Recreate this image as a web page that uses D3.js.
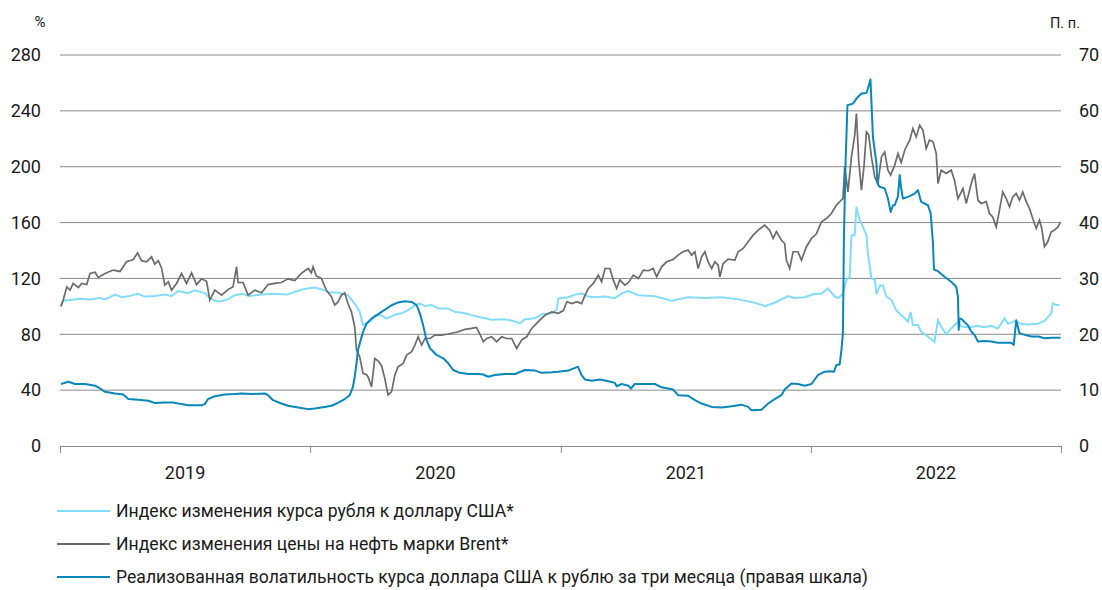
<!DOCTYPE html>
<html>
<head>
<meta charset="utf-8">
<script src="https://cdn.jsdelivr.net/npm/d3@7"></script>
<style>
  body { margin: 0; background: #fff; }
  svg { display: block; font-family: Roboto, "Noto Sans", sans-serif; }
</style>
</head>
<body>
<svg id="chart" width="1102" height="590"></svg>
<script>
// time is stored as years since 1 Jan 2019
const startYear = 2019;
const years = ['2019', '2020', '2021', '2022'];
const leftTicks = [0, 40, 80, 120, 160, 200, 240, 280];
const rightTicks = [0, 10, 20, 30, 40, 50, 60, 70];

const legendLabels = [
  'Индекс изменения курса рубля к доллару США*',
  'Индекс изменения цены на нефть марки Brent*',
  'Реализованная волатильность курса доллара США к рублю за три месяца (правая шкала)',
];

// ruble index, %
const rubleIndex = [
  [0.002,100],[0.012,104],[0.040,104.5],[0.080,105.5],[0.120,105],[0.160,106],[0.180,105],[0.220,108.5],[0.248,106.5],[0.280,107.5],[0.312,109],[0.339,107],[0.379,107.5],[0.419,108.5],[0.447,107.5],[0.471,111],[0.511,109.5],[0.539,111.5],[0.579,109.5],[0.599,106],[0.619,104],[0.639,103.5],[0.671,105],[0.699,108],[0.727,109],[0.759,107.5],[0.807,108.5],[0.847,109],[0.911,108.5],[0.950,111],[0.978,112.5],
  [1.018,113.5],[1.058,111.6],[1.072,110],[1.111,110],[1.151,108],[1.178,102],[1.198,96],[1.211,86.6],[1.225,88],[1.245,90],[1.258,93.7],[1.285,93.7],[1.305,91.2],[1.338,94],[1.365,95],[1.391,97.3],[1.418,100.9],[1.438,102],[1.458,100.2],[1.484,101],[1.511,98.5],[1.551,98.5],[1.577,96.1],[1.617,95],[1.644,93.7],[1.684,92],[1.724,90.4],[1.777,90.8],[1.817,89.2],[1.837,87.8],[1.857,90.8],[1.897,91.5],[1.924,94.3],[1.964,95],[1.984,98],[1.990,105.7],
  [2.030,106.5],[2.057,108.4],[2.083,109.3],[2.110,107],[2.137,106.6],[2.177,107],[2.216,105.9],[2.243,109.3],[2.270,110.9],[2.310,108],[2.376,107.2],[2.443,104],[2.509,106.5],[2.576,106],[2.643,106.5],[2.709,105],[2.776,102.6],[2.816,100.2],[2.855,102.6],[2.909,107.3],[2.935,106],[2.975,106.5],
  [3.015,109],[3.042,109],[3.068,112.8],[3.095,107],[3.109,106],[3.128,109],[3.142,118.8],[3.155,121.2],[3.162,151],[3.175,151],[3.182,171.3],[3.195,161.7],[3.208,157],[3.222,151],[3.228,137.9],[3.242,120],[3.256,119],[3.262,108.8],[3.276,115],[3.288,115],[3.302,106.9],[3.322,104.5],[3.341,97.3],[3.361,93.7],[3.375,91.5],[3.388,89],[3.399,96],[3.408,86.6],[3.428,86.6],[3.441,81.8],[3.468,78.2],[3.494,74.6],[3.508,90.2],[3.521,85.4],[3.541,80],[3.561,84.2],[3.588,89],[3.601,85.5],[3.628,85],[3.668,86],[3.694,85],[3.721,86],[3.748,84.2],[3.774,91.4],[3.788,87.5],[3.814,89.5],[3.841,87.5],[3.867,87],[3.907,87.5],[3.934,89.5],[3.961,95],[3.967,102.1],[3.981,101],[3.994,101]
];

// Brent index, %
const brentIndex = [
  [0.004,100],[0.013,104.5],[0.027,114],[0.040,111.6],[0.053,116.4],[0.073,113.4],[0.087,116.4],[0.107,115.6],[0.120,123.6],[0.140,124.4],[0.153,120.7],[0.180,123.6],[0.213,126],[0.240,125],[0.266,131.9],[0.293,133.6],[0.310,138.3],[0.326,132.7],[0.346,131.9],[0.366,135.5],[0.379,130.2],[0.393,132.7],[0.406,127.5],[0.419,115.2],[0.433,117.6],[0.446,111.6],[0.466,116.4],[0.486,123.6],[0.506,116.4],[0.526,124],[0.546,115.6],[0.566,119.7],[0.586,118],[0.599,104.5],[0.619,111.6],[0.646,108],[0.672,112],[0.692,114],[0.706,128.3],[0.712,117.1],[0.732,117.1],[0.752,108],[0.779,111.6],[0.806,109.7],[0.832,115.6],[0.859,116.4],[0.885,117.1],[0.912,119.7],[0.939,118.5],[0.965,123.6],[0.992,127.1],[1.005,124],[1.012,128.3],
  [1.025,121.8],[1.045,120],[1.065,111.6],[1.085,106.9],[1.098,100.9],[1.111,103],[1.125,108],[1.138,109.7],[1.151,102],[1.165,96.1],[1.178,85.4],[1.185,68.7],[1.198,63.9],[1.211,52],[1.225,51],[1.231,49.6],[1.245,42.4],[1.258,62.7],[1.271,61],[1.285,57.5],[1.298,48.4],[1.311,36.5],[1.325,38.9],[1.338,50.8],[1.351,56.7],[1.371,59.2],[1.385,65.1],[1.405,67.5],[1.418,72.3],[1.431,78.2],[1.445,72.3],[1.458,77],[1.478,77],[1.498,79.4],[1.524,79.4],[1.551,80.2],[1.591,81.8],[1.617,83.5],[1.644,84.2],[1.664,84.9],[1.677,80.2],[1.691,74.6],[1.704,77],[1.724,78.2],[1.744,74.6],[1.764,78.2],[1.784,77],[1.804,77],[1.824,69.9],[1.844,76],[1.864,78.2],[1.884,84.2],[1.910,89],[1.937,93.7],[1.964,96.1],[1.990,95],[2.010,97],
  [2.024,103.3],[2.044,102],[2.064,103.3],[2.083,102],[2.097,108],[2.110,112.8],[2.130,116.4],[2.150,122.4],[2.163,117.6],[2.177,127.1],[2.196,127.1],[2.210,118.8],[2.223,112.8],[2.236,119],[2.256,115.2],[2.270,117],[2.290,122.4],[2.310,120],[2.330,126],[2.350,125.5],[2.369,127.1],[2.383,121.2],[2.403,128.3],[2.423,131.9],[2.449,133.6],[2.469,136.7],[2.489,139.1],[2.509,140.3],[2.523,136.7],[2.536,139.1],[2.549,127.1],[2.563,135.5],[2.576,139.1],[2.589,131.9],[2.603,127.1],[2.616,131.9],[2.629,129.5],[2.636,121.2],[2.649,130.7],[2.669,133.8],[2.696,133.1],[2.709,139.1],[2.729,141.5],[2.749,146.2],[2.769,151],[2.789,154.6],[2.815,158.2],[2.835,154.6],[2.849,148.6],[2.862,153.5],[2.882,147.4],[2.895,145],[2.902,133.1],[2.915,127.1],[2.929,139.1],[2.948,139.1],[2.962,133.1],[2.982,142.7],[3.002,148.6],
  [3.022,152],[3.042,160.5],[3.062,162.9],[3.082,166.5],[3.102,172.5],[3.115,174.9],[3.128,177.2],[3.135,199.9],[3.148,182],[3.162,207],[3.175,222.5],[3.182,238.1],[3.191,204.6],[3.202,183.2],[3.212,199.9],[3.222,224.9],[3.231,223],[3.242,207],[3.255,192.7],[3.268,187.9],[3.282,207],[3.295,210.6],[3.308,197.5],[3.319,194],[3.335,201.1],[3.348,209.4],[3.361,203],[3.375,211.8],[3.395,219],[3.408,227.4],[3.421,221.3],[3.435,229.7],[3.448,226],[3.461,213],[3.474,219],[3.488,218],[3.501,209.4],[3.508,188],[3.521,197.5],[3.541,195.1],[3.561,197.5],[3.574,190.4],[3.588,177.2],[3.608,184.4],[3.621,173.7],[3.641,188],[3.654,195.1],[3.668,176],[3.681,173.7],[3.701,175],[3.714,166.5],[3.727,164],[3.741,156.9],[3.754,168.9],[3.767,182],[3.781,177.2],[3.794,171.3],[3.807,178.4],[3.821,180.8],[3.834,176],[3.847,182],[3.861,175],[3.874,170.1],[3.887,162.9],[3.901,155.8],[3.914,161.7],[3.923,155.8],[3.934,142.7],[3.947,146.2],[3.961,153.4],[3.974,154.6],[3.988,156.9],[3.998,160.5]
];

// realised 3m volatility, p.p. (right axis)
const volatility = [
  [0.004,11.1],[0.033,11.5],[0.060,11.1],[0.100,11.1],[0.140,10.8],[0.160,10.3],[0.180,9.7],[0.220,9.4],[0.253,9.2],[0.273,8.4],[0.313,8.3],[0.353,8.1],[0.379,7.7],[0.419,7.8],[0.452,7.8],[0.486,7.5],[0.512,7.3],[0.566,7.3],[0.579,7.5],[0.592,8.4],[0.619,8.9],[0.659,9.2],[0.699,9.3],[0.726,9.4],[0.766,9.3],[0.819,9.4],[0.832,9.1],[0.852,8.2],[0.885,7.6],[0.912,7.2],[0.952,6.9],[0.992,6.6],[1.018,6.7],
  [1.058,7.0],[1.085,7.2],[1.111,7.7],[1.138,8.4],[1.158,9.1],[1.171,10.6],[1.178,12.4],[1.185,14.8],[1.191,17.2],[1.202,19],[1.211,20.4],[1.225,21.9],[1.245,22.8],[1.265,23.4],[1.285,24],[1.305,24.6],[1.325,25.2],[1.351,25.7],[1.378,25.9],[1.405,25.8],[1.425,25.2],[1.438,23.7],[1.451,21.6],[1.464,19],[1.478,17.5],[1.504,16.3],[1.531,15.7],[1.551,14.8],[1.571,13.6],[1.597,13.1],[1.631,12.9],[1.671,12.9],[1.691,12.8],[1.710,12.4],[1.737,12.7],[1.777,12.9],[1.817,12.9],[1.857,13.6],[1.897,13.5],[1.924,13.1],[1.964,13.2],[1.990,13.3],
  [2.030,13.5],[2.057,14],[2.068,14.2],[2.083,12.7],[2.097,11.9],[2.123,11.7],[2.157,11.9],[2.190,11.6],[2.216,11.3],[2.223,10.7],[2.243,11.1],[2.270,10.8],[2.280,10.3],[2.296,11.1],[2.336,11.1],[2.376,11.1],[2.403,10.5],[2.449,10.1],[2.469,9.1],[2.509,9.0],[2.536,8.2],[2.563,7.6],[2.603,7.0],[2.643,6.9],[2.683,7.1],[2.722,7.4],[2.749,7.0],[2.762,6.4],[2.802,6.5],[2.829,7.6],[2.855,8.4],[2.882,9.1],[2.895,10.1],[2.922,11.2],[2.948,11.1],[2.975,10.8],[3.002,11.1],[3.015,11.9],
  [3.028,12.7],[3.055,13.3],[3.075,13.4],[3.092,13.3],[3.102,14.5],[3.115,14.6],[3.122,17.2],[3.128,20.2],[3.132,37.4],[3.138,50],[3.146,61],[3.168,61.3],[3.182,62.2],[3.202,63.1],[3.222,63.2],[3.228,64],[3.238,65.6],[3.242,61.6],[3.248,55.3],[3.262,50.6],[3.266,47],[3.275,46.4],[3.295,46.1],[3.308,44.3],[3.319,41.9],[3.328,43.1],[3.335,43.1],[3.348,44.7],[3.355,48.5],[3.361,46.1],[3.368,44.3],[3.388,44.6],[3.415,45.2],[3.428,45.8],[3.441,43.7],[3.468,43.1],[3.479,41.6],[3.488,36.3],[3.492,31.6],[3.508,31.3],[3.534,30.3],[3.561,29.4],[3.581,28.5],[3.588,26.7],[3.591,20.8],[3.594,22.8],[3.601,22.8],[3.614,22.2],[3.628,21.6],[3.641,20.5],[3.654,19.9],[3.668,18.7],[3.694,18.8],[3.721,18.7],[3.748,18.5],[3.774,18.5],[3.801,18.5],[3.811,18.1],[3.821,22.5],[3.834,20.2],[3.854,19.9],[3.882,19.6],[3.910,19.6],[3.934,19.3],[3.961,19.4],[3.998,19.4]
];

const colors = ['#84dcfb', '#6b6b6b', '#0a87ba'];

// decimal year offset -> Date
function toDate(t) {
  const y = startYear + Math.floor(t);
  const a = new Date(y, 0, 1), b = new Date(y + 1, 0, 1);
  return new Date(+a + (t - Math.floor(t)) * (b - a));
}

const svg = d3.select('#chart');
const margin = { top: 55, right: 41, bottom: 144, left: 60 };
const width = 1102 - margin.left - margin.right;
const height = 590 - margin.top - margin.bottom;

const g = svg.append('g').attr('transform', `translate(${margin.left},${margin.top})`);

const x = d3.scaleTime()
  .domain([new Date(startYear, 0, 1), new Date(startYear + years.length, 0, 1)])
  .range([0, width]);
const yLeft = d3.scaleLinear().domain([0, 280]).range([height, 0]);
const yRight = d3.scaleLinear().domain([0, 70]).range([height, 0]);

// gridlines
g.append('g')
  .selectAll('line')
  .data(leftTicks.filter((d) => d > 0))
  .join('line')
  .attr('x1', 0).attr('x2', width)
  .attr('y1', (d) => yLeft(d)).attr('y2', (d) => yLeft(d))
  .attr('stroke', '#8a8a8a').attr('stroke-width', 1);

// left axis labels
const leftAxis = g.append('g')
  .call(d3.axisLeft(yLeft).tickValues(leftTicks).tickSize(0).tickPadding(19));
leftAxis.select('.domain').remove();
leftAxis.selectAll('text').attr('font-size', 18).attr('fill', '#1a1a1a')
  .attr('font-family', 'Roboto, sans-serif');

// right axis labels
const rightAxis = g.append('g')
  .attr('transform', `translate(${width},0)`)
  .call(d3.axisRight(yRight).tickValues(rightTicks).tickSize(0).tickPadding(18));
rightAxis.select('.domain').remove();
rightAxis.selectAll('text').attr('font-size', 18).attr('fill', '#1a1a1a')
  .attr('font-family', 'Roboto, sans-serif');

// bottom axis: year boundaries as ticks, labels centred in each year
const yearStarts = d3.range(years.length + 1).map((i) => new Date(startYear + i, 0, 1));
const xAxis = g.append('g')
  .attr('transform', `translate(0,${height})`)
  .call(d3.axisBottom(x).tickValues(yearStarts).tickSize(7).tickFormat(''));
xAxis.select('.domain').attr('stroke', '#8a8a8a');
xAxis.selectAll('.tick line').attr('stroke', '#8a8a8a');

g.append('g')
  .selectAll('text')
  .data(years)
  .join('text')
  .attr('x', (d, i) => (x(yearStarts[i]) + x(yearStarts[i + 1])) / 2)
  .attr('y', height + 33)
  .attr('text-anchor', 'middle')
  .attr('font-size', 18)
  .attr('fill', '#1a1a1a')
  .text((d) => d);

// unit labels
svg.append('text').attr('x', 40).attr('y', 27).attr('text-anchor', 'middle')
  .attr('font-size', 15).attr('fill', '#1a1a1a').text('%');
svg.append('text').attr('x', 1065).attr('y', 28).attr('text-anchor', 'middle')
  .attr('font-size', 14.5).attr('fill', '#1a1a1a').text('П. п.');

// lines
const lineLeft = d3.line().x((d) => x(toDate(d[0]))).y((d) => yLeft(d[1]));
const lineRight = d3.line().x((d) => x(toDate(d[0]))).y((d) => yRight(d[1]));

g.append('path').datum(rubleIndex).attr('d', lineLeft)
  .attr('fill', 'none').attr('stroke', colors[0]).attr('stroke-width', 2);
g.append('path').datum(brentIndex).attr('d', lineLeft)
  .attr('fill', 'none').attr('stroke', colors[1]).attr('stroke-width', 1.7);
g.append('path').datum(volatility).attr('d', lineRight)
  .attr('fill', 'none').attr('stroke', colors[2]).attr('stroke-width', 2)
  .attr('stroke-linejoin', 'round');

// legend
const legend = svg.append('g').attr('transform', 'translate(57,511)');
const rows = legend.selectAll('g')
  .data(legendLabels)
  .join('g')
  .attr('transform', (d, i) => `translate(0,${i * 33})`);
rows.append('line')
  .attr('x1', 0).attr('x2', 53)
  .attr('stroke', (d, i) => colors[i]).attr('stroke-width', 2);
rows.append('text')
  .attr('x', 59).attr('y', 6)
  .attr('font-size', 17.6).attr('fill', '#1a1a1a')
  .text((d) => d);
</script>
</body>
</html>
